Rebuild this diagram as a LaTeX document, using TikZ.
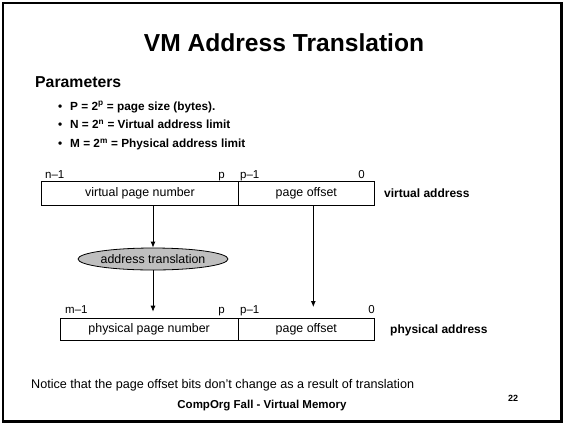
\documentclass[tikz,border=0pt]{standalone}
\usepackage{fontspec}
\setmainfont{Liberation Sans}
\usetikzlibrary{arrows.meta,shapes.geometric}
\begin{document}
\begin{tikzpicture}[x=1pt,y=-1pt,
  fld/.style={draw=black,line width=0.8pt,inner sep=0pt,font=\fontsize{12.4}{14}\selectfont},
  bitlbl/.style={inner sep=0pt,font=\fontsize{11.5}{13}\selectfont},
  side/.style={inner sep=0pt,anchor=base west,font=\bfseries\fontsize{12}{14}\selectfont},
  arr/.style={line width=0.8pt,-{Latex[length=6pt,width=5pt]}},
  bul/.style={inner sep=0pt,anchor=base west,font=\bfseries\fontsize{11.8}{13}\selectfont}]
\useasboundingbox (0,0) rectangle (564,424);
\draw[line width=2.2pt] (3,3) rectangle (561.5,421.5);
\node[anchor=base,inner sep=0pt,font=\bfseries\fontsize{24.6}{28}\selectfont] (title) at (284,51.7) {VM Address Translation};
\node[anchor=base west,inner sep=0pt,font=\bfseries\fontsize{15.8}{18}\selectfont] (params) at (35,87) {Parameters};
\node[bul] (b1) at (58,110) {•};
\node[bul] (l1) at (70,110) {P = 2\textsuperscript{p} = page size (bytes).};
\node[bul] (b2) at (58,128.5) {•};
\node[bul] (l2) at (70,128.5) {N = 2\textsuperscript{n} = Virtual address limit};
\node[bul] (b3) at (58,147.5) {•};
\node[bul] (l3) at (70,147.5) {M = 2\textsuperscript{m} = Physical address limit};
% virtual address
\node[fld,minimum width=196.6pt,minimum height=23.6pt] (vpn) at (140,193.5) {virtual page number};
\node[fld,minimum width=136pt,minimum height=23.6pt] (vpo) at (306.3,193.5) {page offset};
\node[side] (va) at (384,197) {virtual address};
\node[bitlbl,anchor=base west] (n1) at (45,178) {n–1};
\node[bitlbl,anchor=base east] (vp) at (225,178) {p};
\node[bitlbl,anchor=base west] (vp1) at (240,178) {p–1};
\node[bitlbl,anchor=base east] (v0) at (365,178) {0};
% translation
\node[ellipse,draw=black,line width=0.8pt,fill=black!25,minimum width=150pt,minimum height=22pt,inner sep=0pt,font=\fontsize{12.4}{14}\selectfont] (xl) at (153,259) {address translation};
% physical address
\node[fld,minimum width=178.3pt,minimum height=22.4pt] (ppn) at (149.15,329.5) {physical page number};
\node[fld,minimum width=136pt,minimum height=22.4pt] (ppo) at (306.3,329.5) {page offset};
\node[side] (pa) at (390,333) {physical address};
\node[bitlbl,anchor=base west] (m1) at (65,313) {m–1};
\node[bitlbl,anchor=base east] (pp) at (225,313) {p};
\node[bitlbl,anchor=base west] (pp1) at (240,313) {p–1};
\node[bitlbl,anchor=base east] (p0) at (375,313) {0};
% arrows
\coordinate (t1) at (153,311.7);
\coordinate (t2) at (313.3,307);
\draw[arr] (vpn.south -| xl.north) -- (xl.north);
\draw[arr] (xl.south) -- (t1);
\draw[arr] (vpo.south -| t2) -- (t2);
% notes
\node[anchor=base west,inner sep=0pt,font=\fontsize{12.6}{15}\selectfont] (note) at (31,388) {Notice that the page offset bits don't change as a result of translation};
\node[anchor=base,inner sep=0pt,font=\bfseries\fontsize{11.5}{13}\selectfont] (foot) at (262,408) {CompOrg Fall - Virtual Memory};
\node[anchor=base west,inner sep=0pt,font=\bfseries\fontsize{9}{11}\selectfont] (pg) at (508,401) {22};
\end{tikzpicture}
\end{document}
